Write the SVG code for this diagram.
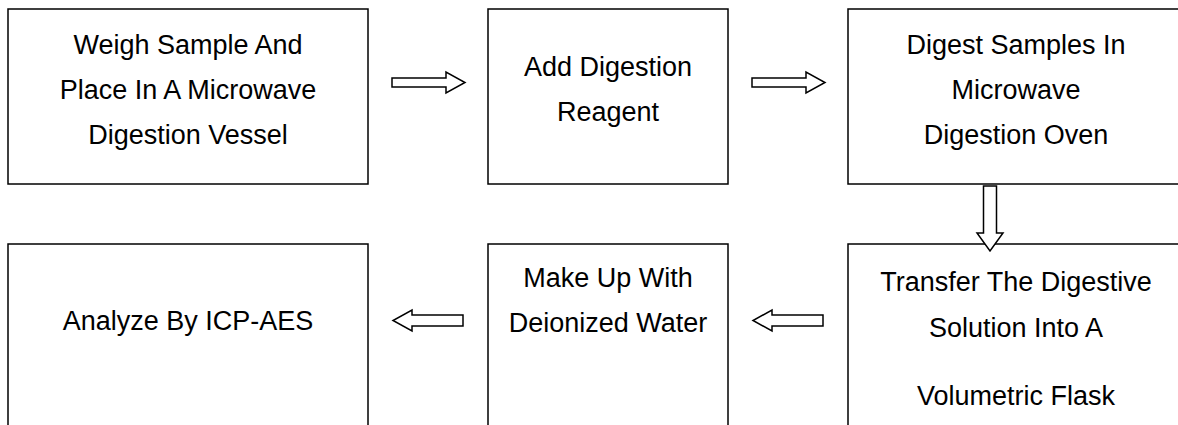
<svg xmlns="http://www.w3.org/2000/svg" width="1178" height="425" viewBox="0 0 1178 425">
<style>
.box{fill:#fff;stroke:#000;stroke-width:1.5}
.t{font-family:"Liberation Sans",Arial,sans-serif;font-size:27px;fill:#000;text-anchor:middle}
.arr{fill:#fff;stroke:#000;stroke-width:1.5;stroke-linejoin:miter}
</style>
<rect width="1178" height="425" fill="#fff"/>
<g id="n1"><rect class="box" x="8" y="9" width="360" height="175"/>
<text class="t" x="188" y="54">Weigh Sample And</text>
<text class="t" x="188" y="99">Place In A Microwave</text>
<text class="t" x="188" y="144">Digestion Vessel</text></g>
<g id="n2"><rect class="box" x="488" y="9" width="240" height="175"/>
<text class="t" x="608" y="76">Add Digestion</text>
<text class="t" x="608" y="121">Reagent</text></g>
<g id="n3"><rect class="box" x="848" y="9" width="340" height="175"/>
<text class="t" x="1016" y="54">Digest Samples In</text>
<text class="t" x="1016" y="99">Microwave</text>
<text class="t" x="1016" y="144">Digestion Oven</text></g>
<g id="n4"><rect class="box" x="8" y="244" width="360" height="200"/>
<text class="t" x="188" y="330">Analyze By ICP-AES</text></g>
<g id="n5"><rect class="box" x="488" y="244" width="240" height="200"/>
<text class="t" x="608" y="287">Make Up With</text>
<text class="t" x="608" y="332">Deionized Water</text></g>
<g id="n6"><rect class="box" x="848" y="244" width="340" height="200"/>
<text class="t" x="1016" y="291">Transfer The Digestive</text>
<text class="t" x="1016" y="337">Solution Into A</text>
<text class="t" x="1016" y="405">Volumetric Flask</text></g>
<g id="connectors">
<path class="arr" d="M392,78 H446 V72 L465,82.5 L446,93 V87 H392 Z"/>
<path class="arr" d="M752,78 H806 V72 L825,82.5 L806,93 V87 H752 Z"/>
<path class="arr" d="M983.5,186 V233 H977 L990,251 L1003,233 H996.5 V186 Z"/>
<path class="arr" d="M463,315 H412 V310 L393,320.5 L412,331 V326 H463 Z"/>
<path class="arr" d="M823,315 H772 V310 L753,320.5 L772,331 V326 H823 Z"/>
</g>
</svg>
